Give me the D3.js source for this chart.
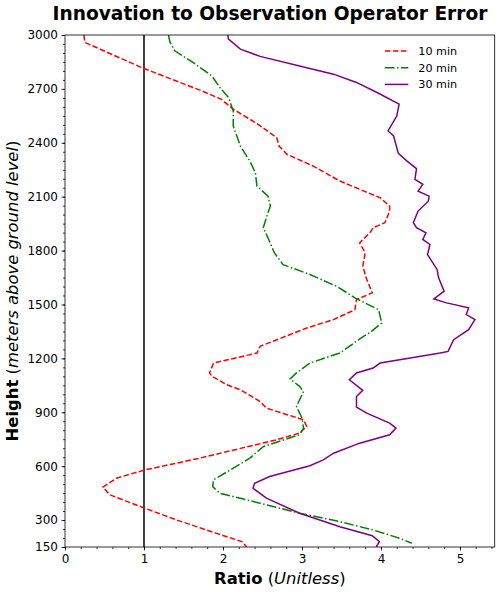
<!DOCTYPE html>
<html>
<head>
<meta charset="utf-8">
<script src="https://cdn.jsdelivr.net/npm/d3@7"></script>
<style>
  body { margin: 0; background: #fff; }
  text { font-family: "DejaVu Sans", sans-serif; }
</style>
</head>
<body>
<svg></svg>
<script>
// data (height in m, ratio unitless)
const height10 = [3000, 2959, 2815, 2693, 2642, 2587, 2507, 2429, 2382, 2336, 2271, 2187, 2094, 2048, 2020, 1955, 1927, 1899, 1843, 1788, 1713, 1639, 1565, 1527, 1471, 1416, 1369, 1267, 1230, 1174, 1119, 1100, 1053, 1025, 960, 923, 858, 821, 784, 747, 645, 579, 533, 483, 440, 366, 301, 226, 180, 150]
const ratio10  = [0.24, 0.25, 0.99, 1.71, 1.98, 2.13, 2.43, 2.68, 2.71, 2.81, 3.14, 3.48, 3.99, 4.11, 4.11, 4.05, 3.90, 3.86, 3.73, 3.80, 3.77, 3.82, 3.89, 3.69, 3.67, 3.40, 3.06, 2.47, 2.43, 1.88, 1.83, 1.86, 2.05, 2.22, 2.47, 2.55, 3.02, 3.06, 2.97, 2.68, 1.71, 1.01, 0.65, 0.48, 0.57, 1.01, 1.41, 1.92, 2.24, 2.30]

const height20 = [3000, 2959, 2912, 2847, 2772, 2708, 2652, 2577, 2494, 2382, 2298, 2234, 2159, 2103, 2048, 2011, 1927, 1871, 1788, 1722, 1667, 1601, 1537, 1471, 1397, 1350, 1323, 1230, 1174, 1119, 1085, 1044, 1016, 932, 868, 812, 775, 709, 645, 589, 524, 486, 449, 394, 338, 291, 245, 198, 171]
const ratio20  = [1.31, 1.33, 1.39, 1.62, 1.86, 1.96, 2.07, 2.13, 2.13, 2.22, 2.34, 2.41, 2.43, 2.57, 2.60, 2.57, 2.51, 2.57, 2.65, 2.76, 3.10, 3.44, 3.67, 3.97, 4.01, 3.88, 3.78, 3.48, 3.10, 2.93, 2.85, 2.97, 3.02, 2.93, 3.00, 3.02, 2.97, 2.51, 2.34, 2.13, 1.88, 1.87, 1.96, 2.47, 2.97, 3.48, 3.90, 4.24, 4.39]

const height30 = [3000, 2977, 2921, 2881, 2828, 2782, 2736, 2680, 2615, 2549, 2466, 2438, 2341, 2298, 2256, 2196, 2169, 2131, 2103, 2075, 2020, 1955, 1927, 1899, 1862, 1834, 1778, 1695, 1648, 1574, 1531, 1509, 1481, 1444, 1416, 1360, 1304, 1239, 1230, 1174, 1146, 1119, 1081, 1022, 988, 929, 895, 840, 812, 775, 728, 672, 635, 602, 542, 505, 477, 422, 338, 263, 213, 180, 150]
const ratio30  = [2.06, 2.07, 2.22, 2.47, 2.97, 3.40, 3.69, 3.95, 4.23, 4.20, 4.09, 4.16, 4.22, 4.33, 4.45, 4.43, 4.53, 4.47, 4.61, 4.60, 4.47, 4.41, 4.45, 4.57, 4.53, 4.62, 4.59, 4.71, 4.73, 4.80, 4.67, 4.83, 5.11, 5.08, 5.19, 5.11, 4.92, 4.85, 4.75, 3.99, 3.90, 3.69, 3.60, 3.77, 3.69, 3.69, 3.82, 4.11, 4.19, 4.11, 3.73, 3.40, 3.27, 3.10, 2.59, 2.40, 2.38, 2.55, 2.97, 3.48, 3.89, 3.98, 3.94]

const seriesNames = ['10 min', '20 min', '30 min']
const seriesColors = ['red', 'green', 'purple']
const seriesDash = ['5.55,2.4', '9.6,2.4,1.5,2.4', null]

const xTicks = [0, 1, 2, 3, 4, 5]
const yTicks = [150, 300, 600, 900, 1200, 1500, 1800, 2100, 2400, 2700, 3000]

const
    svgWidth = 500,
    svgHeight = 592,
    LEFT = 65,
    RIGHT = 494.7,
    TOP = 35,
    BOTTOM = 547

let svg = d3.select('svg')
    .attr('width', svgWidth)
    .attr('height', svgHeight)

const x = d3.scaleLinear().domain([0, 5.44]).range([LEFT, RIGHT])
const y = d3.scaleLinear().domain([150, 3000]).range([BOTTOM, TOP])

svg.append('clipPath').attr('id', 'clip')
    .append('rect')
    .attr('x', LEFT).attr('y', TOP)
    .attr('width', RIGHT - LEFT).attr('height', BOTTOM - TOP)

// minor ticks
svg.append('g')
    .attr('transform', `translate(0,${BOTTOM})`)
    .call(d3.axisBottom(x).tickValues(d3.range(0, 5.41, 0.2)).tickSize(2).tickFormat(''))
    .call(g => g.select('.domain').remove())
svg.append('g')
    .attr('transform', `translate(${LEFT},0)`)
    .call(d3.axisLeft(y).tickValues(d3.range(150, 3001, 50)).tickSize(2).tickFormat(''))
    .call(g => g.select('.domain').remove())

// major ticks
svg.append('g')
    .attr('transform', `translate(0,${BOTTOM})`)
    .call(d3.axisBottom(x).tickValues(xTicks).tickSize(3.5).tickPadding(3.5).tickFormat(d3.format('d')))
    .call(g => g.select('.domain').remove())
    .call(g => g.selectAll('text').attr('font-size', 12).attr('font-family', 'DejaVu Sans').attr('fill', '#000'))
svg.append('g')
    .attr('transform', `translate(${LEFT},0)`)
    .call(d3.axisLeft(y).tickValues(yTicks).tickSize(3.5).tickPadding(3.5).tickFormat(d3.format('d')))
    .call(g => g.select('.domain').remove())
    .call(g => g.selectAll('text').attr('font-size', 12).attr('font-family', 'DejaVu Sans').attr('fill', '#000'))
svg.selectAll('.tick line').attr('stroke', '#000').attr('stroke-width', 0.8)

// reference line at ratio = 1
svg.append('line')
    .attr('x1', x(1)).attr('x2', x(1))
    .attr('y1', TOP).attr('y2', BOTTOM)
    .attr('stroke', '#000')
    .attr('stroke-width', 1.5)

const heights = [height10, height20, height30]
const ratios = [ratio10, ratio20, ratio30]

const line = d3.line().x(d => x(d[1])).y(d => y(d[0]))

let plot = svg.append('g').attr('clip-path', 'url(#clip)')
seriesNames.forEach((name, i) => {
    const pts = heights[i].map((h, j) => [h, ratios[i][j]])
    plot.append('path')
        .datum(pts)
        .attr('d', line)
        .attr('fill', 'none')
        .attr('stroke', seriesColors[i])
        .attr('stroke-width', 1.5)
        .attr('stroke-dasharray', seriesDash[i])
})

// axes frame
svg.append('rect')
    .attr('x', LEFT).attr('y', TOP)
    .attr('width', RIGHT - LEFT).attr('height', BOTTOM - TOP)
    .attr('fill', 'none')
    .attr('stroke', '#000')
    .attr('stroke-width', 0.8)

// legend
let legend = svg.append('g')
seriesNames.forEach((name, i) => {
    const ly = 51 + i * 16.7
    legend.append('line')
        .attr('x1', 385).attr('x2', 408.3)
        .attr('y1', ly).attr('y2', ly)
        .attr('stroke', seriesColors[i])
        .attr('stroke-width', 1.5)
        .attr('stroke-dasharray', seriesDash[i])
    legend.append('text')
        .attr('x', 418.3).attr('y', ly + 4)
        .attr('font-size', 11.2)
        .attr('fill', '#000')
        .text(name)
})

// title
svg.append('text')
    .attr('x', 270).attr('y', 19.5)
    .attr('text-anchor', 'middle')
    .attr('font-size', 18.6)
    .attr('font-weight', 'bold')
    .text('Innovation to Observation Operator Error')

// x label
let xl = svg.append('text')
    .attr('x', (LEFT + RIGHT) / 2).attr('y', 584)
    .attr('text-anchor', 'middle')
    .attr('font-size', 16.4)
xl.append('tspan').attr('font-weight', 'bold').text('Ratio')
xl.append('tspan').text(' (')
xl.append('tspan').attr('font-style', 'italic').text('Unitless')
xl.append('tspan').text(')')

// y label
let yl = svg.append('text')
    .attr('transform', `translate(17.5,${(TOP + BOTTOM) / 2}) rotate(-90)`)
    .attr('text-anchor', 'middle')
    .attr('font-size', 16.4)
yl.append('tspan').attr('font-weight', 'bold').text('Height')
yl.append('tspan').text(' (')
yl.append('tspan').attr('font-style', 'italic').text('meters above ground level')
yl.append('tspan').text(')')
</script>
</body>
</html>
